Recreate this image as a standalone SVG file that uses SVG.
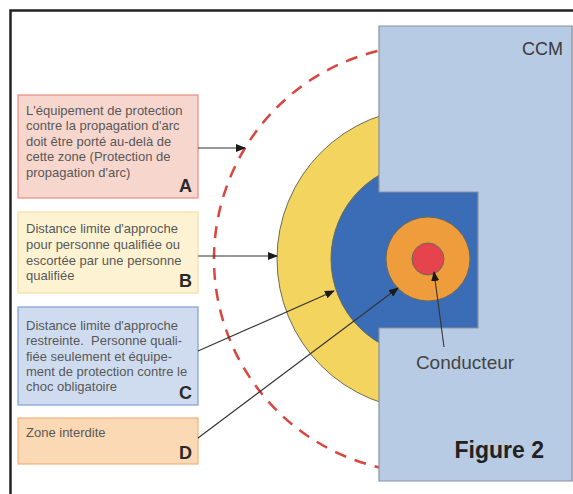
<svg xmlns="http://www.w3.org/2000/svg" width="573" height="494" viewBox="0 0 573 494">
<defs>
<style>
.t{font-family:"Liberation Sans",Arial,sans-serif;font-size:13px;fill:#585858;white-space:pre}
.L{font-family:"Liberation Sans",Arial,sans-serif;font-size:18px;font-weight:bold;fill:#2a2a2a}
.c{stroke:#333;stroke-width:1.1;fill:none;marker-end:url(#ah)}
.ring{stroke:#6b6b5a;stroke-width:1}
</style>
<marker id="ah" markerWidth="10" markerHeight="8" refX="9" refY="4" orient="auto" markerUnits="userSpaceOnUse">
<path d="M0,0 L10,4 L0,8 Z" fill="#1a1a1a"/>
</marker>
</defs>
<rect width="573" height="494" fill="#ffffff"/>
<g id="zones">
<circle cx="428" cy="259" r="214" fill="none" stroke="#d9453f" stroke-width="2.5" stroke-dasharray="12 9"/>
<circle class="ring" cx="428" cy="259" r="151" fill="#f2d45e"/>
<circle class="ring" cx="428" cy="259" r="97" fill="#3a6db5"/>
<circle class="ring" cx="428" cy="259" r="42" fill="#ef9c3c"/>
<circle class="ring" cx="428" cy="259" r="16" fill="#e5444c"/>
</g>
<g id="ccm">
<path d="M379,26 H585 V481 H379 V328 H478 V192 H379 Z" fill="#b8cbe5" stroke="#8a919c" stroke-width="1.2"/>
<rect x="572.6" y="12" width="10" height="482" fill="#ffffff"/>
<line x1="572" y1="26" x2="572" y2="481" stroke="#8a919c" stroke-width="1.2"/>
<text x="563" y="55" text-anchor="end" style="font-family:'Liberation Sans',Arial,sans-serif;font-size:18px;fill:#3a3a3a">CCM</text>
<text x="465" y="369" text-anchor="middle" style="font-family:'Liberation Sans',Arial,sans-serif;font-size:19px;fill:#444">Conducteur</text>
<text x="544" y="458" text-anchor="end" style="font-family:'Liberation Sans',Arial,sans-serif;font-size:23px;font-weight:bold;fill:#222">Figure 2</text>
</g>
<rect x="10.5" y="10.5" width="600" height="600" fill="none" stroke="#222" stroke-width="2.5"/>
<g id="boxA">
<rect x="18" y="95" width="180" height="103" fill="#f7d6cd" stroke="#e98b7c" stroke-width="1.2"/>
<text class="t" x="26" y="115">L'équipement de protection</text>
<text class="t" x="26" y="130">contre la propagation d'arc</text>
<text class="t" x="26" y="146">doit être porté au-delà de</text>
<text class="t" x="26" y="161">cette zone (Protection de</text>
<text class="t" x="26" y="177">propagation d'arc)</text>
<text class="L" x="192" y="192" text-anchor="end">A</text>
</g>
<g id="boxB">
<rect x="18" y="212" width="180" height="81" fill="#fdf3d3" stroke="#f3e0a4" stroke-width="1.2"/>
<text class="t" x="26" y="233">Distance limite d'approche</text>
<text class="t" x="26" y="249">pour personne qualifiée ou</text>
<text class="t" x="26" y="265">escortée par une personne</text>
<text class="t" x="26" y="280">qualifiée</text>
<text class="L" x="192" y="287" text-anchor="end">B</text>
</g>
<g id="boxC">
<rect x="18" y="307" width="180" height="98" fill="#cfdcf0" stroke="#7f9fd2" stroke-width="1.2"/>
<text class="t" x="26" y="330">Distance limite d'approche</text>
<text class="t" x="26" y="345">restreinte.&#160; Personne quali-</text>
<text class="t" x="26" y="361">fiée seulement et équipe-</text>
<text class="t" x="26" y="376">ment de protection contre le</text>
<text class="t" x="26" y="391">choc obligatoire</text>
<text class="L" x="192" y="399" text-anchor="end">C</text>
</g>
<g id="boxD">
<rect x="18" y="418" width="180" height="46" fill="#fbd9b4" stroke="#f0b37c" stroke-width="1.2"/>
<text class="t" x="26" y="437">Zone interdite</text>
<text class="L" x="192" y="459" text-anchor="end">D</text>
</g>
<g id="connectors">
<line class="c" x1="198" y1="148" x2="245" y2="148"/>
<line class="c" x1="198" y1="256" x2="277" y2="256"/>
<line class="c" x1="198" y1="351" x2="334" y2="291"/>
<line class="c" x1="198" y1="438" x2="398" y2="288"/>
<line class="c" x1="444" y1="347" x2="434" y2="272"/>
</g>
</svg>
